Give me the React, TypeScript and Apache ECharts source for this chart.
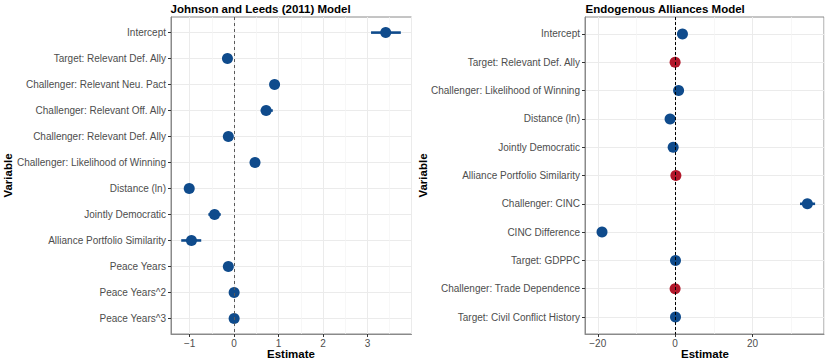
import React, { useEffect, useRef } from 'react';
import * as echarts from 'echarts';

const leftVars = [
  'Intercept',
  'Target: Relevant Def. Ally',
  'Challenger: Relevant Neu. Pact',
  'Challenger: Relevant Off. Ally',
  'Challenger: Relevant Def. Ally',
  'Challenger: Likelihood of Winning',
  'Distance (ln)',
  'Jointly Democratic',
  'Alliance Portfolio Similarity',
  'Peace Years',
  'Peace Years^2',
  'Peace Years^3',
];
const leftEst = [3.41, -0.15, 0.91, 0.72, -0.13, 0.47, -1.01, -0.44, -0.96, -0.13, 0.0, 0.0];
const leftLo = [3.08, -0.2, 0.86, 0.6, -0.18, 0.42, -1.06, -0.58, -1.19, -0.17, -0.02, -0.02];
const leftHi = [3.75, -0.1, 0.96, 0.87, -0.08, 0.52, -0.96, -0.3, -0.74, -0.09, 0.02, 0.02];
const leftSig = [1, 1, 1, 1, 1, 1, 1, 1, 1, 1, 1, 1];

const rightVars = [
  'Intercept',
  'Target: Relevant Def. Ally',
  'Challenger: Likelihood of Winning',
  'Distance (ln)',
  'Jointly Democratic',
  'Alliance Portfolio Similarity',
  'Challenger: CINC',
  'CINC Difference',
  'Target: GDPPC',
  'Challenger: Trade Dependence',
  'Target: Civil Conflict History',
];
const rightEst = [1.9, 0.0, 0.9, -1.3, -0.5, 0.2, 34.2, -18.9, 0.1, 0.0, 0.1];
const rightLo = [1.5, -0.3, 0.6, -1.6, -0.8, -0.1, 32.3, -20.0, -0.1, -0.2, -0.1];
const rightHi = [2.3, 0.3, 1.2, -1.0, -0.2, 0.5, 36.2, -17.8, 0.3, 0.2, 0.3];
const rightSig = [1, 0, 1, 1, 1, 0, 1, 1, 1, 0, 1];

const BLUE = '#0f4b8c';
const RED = '#b2182b';
const FONT = 'Liberation Sans, Arial, Helvetica, sans-serif';

function xAxisCfg(gridIndex: number, min: number, max: number, splitNumber: number) {
  return {
    gridIndex,
    type: 'value',
    min,
    max,
    splitNumber,
    axisLine: { show: true, onZero: false, lineStyle: { color: '#8a8a8a', width: 1 } },
    axisTick: { show: true, length: 3, lineStyle: { color: '#333333', width: 1 } },
    axisLabel: {
      showMinLabel: false,
      showMaxLabel: false,
      color: '#4d4d4d',
      fontSize: 10,
      fontFamily: FONT,
      margin: 4,
      formatter: (v: number) => String(v).replace('-', '\u2212'),
    },
    splitLine: { show: true, lineStyle: { color: '#ebebeb', width: 1 } },
    minorTick: { show: false, splitNumber: 2 },
    minorSplitLine: { show: true, lineStyle: { color: '#f4f4f4', width: 0.7 } },
  };
}

function yAxisCfg(gridIndex: number, names: string[]) {
  const idx = names.map((_, i) => i);
  return {
    gridIndex,
    type: 'value',
    inverse: true,
    min: -0.6,
    max: names.length - 1 + 0.6,
    axisLine: { show: true, onZero: false, lineStyle: { color: '#8a8a8a', width: 1 } },
    axisTick: { show: true, length: 3, customValues: idx, lineStyle: { color: '#333333', width: 1 } },
    axisLabel: {
      customValues: idx,
      color: '#4d4d4d',
      fontSize: 10,
      fontFamily: FONT,
      margin: 5,
      formatter: (v: number) => names[Math.round(v)] ?? '',
    },
    splitLine: { show: true, lineStyle: { color: '#ebebeb', width: 1 } },
  };
}

function ciSeries(axisIndex: number, lo: number[], hi: number[], sig: number[]) {
  return {
    type: 'custom',
    xAxisIndex: axisIndex,
    yAxisIndex: axisIndex,
    z: 3,
    silent: true,
    encode: { x: [0, 1], y: 2 },
    data: lo.map((l, i) => [l, hi[i], i, sig[i]]),
    renderItem: (_params: any, api: any) => {
      const a = api.coord([api.value(0), api.value(2)]);
      const b = api.coord([api.value(1), api.value(2)]);
      return {
        type: 'line',
        shape: { x1: a[0], y1: a[1], x2: b[0], y2: b[1] },
        style: { stroke: api.value(3) ? BLUE : RED, lineWidth: 2.6 },
      };
    },
  };
}

function pointSeries(axisIndex: number, est: number[], sig: number[], vColor: string, dash: number[]) {
  return {
    type: 'scatter',
    xAxisIndex: axisIndex,
    yAxisIndex: axisIndex,
    z: 4,
    symbol: 'circle',
    symbolSize: 11,
    silent: true,
    itemStyle: { opacity: 1 },
    data: est.map((e, i) => ({ value: [e, i], itemStyle: { color: sig[i] ? BLUE : RED, opacity: 1 } })),
    markLine: {
      silent: true,
      symbol: ['none', 'none'],
      label: { show: false },
      lineStyle: { color: vColor, type: dash, width: 1, opacity: 1 },
      data: [{ xAxis: 0 }],
      z: 6,
    },
  };
}

export default function App() {
  const ref = useRef<HTMLDivElement>(null);
  useEffect(() => {
    if (!ref.current) return;
    const chart = echarts.init(ref.current, undefined, { renderer: 'svg' });
    const titleStyle = { fontSize: 11.5, fontWeight: 'bold', fontFamily: FONT, fill: '#000' };
    chart.setOption({
      animation: false,
      backgroundColor: '#ffffff',
      grid: [
        { left: 171, right: 418.5, top: 17, bottom: 29, show: true, borderColor: '#8a8a8a', borderWidth: 1, backgroundColor: 'transparent' },
        { left: 585, right: 6, top: 17, bottom: 29, show: true, borderColor: '#8a8a8a', borderWidth: 1, backgroundColor: 'transparent' },
      ],
      xAxis: [xAxisCfg(0, -1.42, 3.99, 5), xAxisCfg(1, -23.3, 38.5, 3)],
      yAxis: [yAxisCfg(0, leftVars), yAxisCfg(1, rightVars)],
      series: [
        ciSeries(0, leftLo, leftHi, leftSig),
        pointSeries(0, leftEst, leftSig, '#5a5a5a', [3, 3]),
        ciSeries(1, rightLo, rightHi, rightSig),
        pointSeries(1, rightEst, rightSig, '#000000', [3, 2]),
      ],
      graphic: [
        { type: 'text', left: 170.5, top: 3, style: { ...titleStyle, text: 'Johnson and Leeds (2011) Model' } },
        { type: 'text', left: 585.5, top: 3, style: { ...titleStyle, text: 'Endogenous Alliances Model' } },
        { type: 'text', x: 291, y: 353.5, style: { ...titleStyle, text: 'Estimate', textAlign: 'center', textVerticalAlign: 'middle' } },
        { type: 'text', x: 705, y: 353.5, style: { ...titleStyle, text: 'Estimate', textAlign: 'center', textVerticalAlign: 'middle' } },
        { type: 'text', x: 7.5, y: 175.5, rotation: Math.PI / 2, style: { ...titleStyle, text: 'Variable', textAlign: 'center', textVerticalAlign: 'middle' } },
        { type: 'text', x: 422.5, y: 175.5, rotation: Math.PI / 2, style: { ...titleStyle, text: 'Variable', textAlign: 'center', textVerticalAlign: 'middle' } },
      ],
    });
    return () => chart.dispose();
  }, []);
  return <div ref={ref} style={{ position: 'absolute', left: 0, top: 0, width: 830, height: 363 }} />;
}
